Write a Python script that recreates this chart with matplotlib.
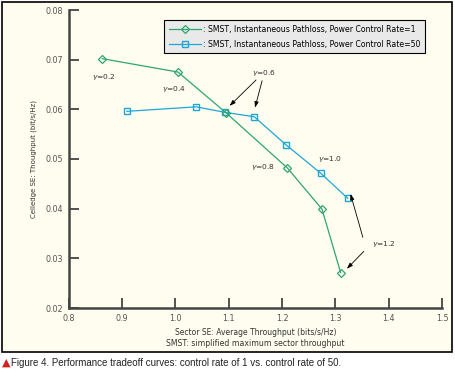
import matplotlib.pyplot as plt
from matplotlib.patches import Rectangle

# data
x_rate1 = [0.863, 1.005, 1.095, 1.210, 1.275, 1.310]
y_rate1 = [0.0702, 0.0675, 0.0593, 0.0482, 0.0399, 0.0271]
x_rate50 = [0.909, 1.039, 1.093, 1.148, 1.207, 1.273, 1.323]
y_rate50 = [0.0596, 0.0605, 0.0594, 0.0585, 0.0529, 0.0471, 0.0421]
label_rate1 = ': SMST, Instantaneous Pathloss, Power Control Rate=1'
label_rate50 = ': SMST, Instantaneous Pathloss, Power Control Rate=50'
x_ticks = [0.8, 0.9, 1.0, 1.1, 1.2, 1.3, 1.4, 1.5]
y_ticks = [0.02, 0.03, 0.04, 0.05, 0.06, 0.07, 0.08]

green = '#2fa66e'
blue = '#1ea6d6'
cream = '#fffdf0'
axis_col = '#444444'

fig = plt.figure(figsize=(4.55, 3.73), dpi=100)
fig.patch.set_facecolor('white')
# cream panel with black border, kept behind the axes
fig.patches.append(Rectangle((1.5 / 455, 1 - 351.5 / 373), 450.5 / 455, 350 / 373,
                             transform=fig.transFigure, facecolor=cream,
                             edgecolor='black', linewidth=1.2, zorder=-5))

ax = fig.add_axes([68.7 / 455, 1 - 308 / 373, (442 - 68.7) / 455, (308 - 10) / 373])
ax.set_facecolor('none')
ax.set_zorder(2)

ax.plot(x_rate1, y_rate1, color=green, lw=0.9, marker='D', ms=4.5,
        mfc='none', mec=green, mew=0.9, label=label_rate1, zorder=3)
ax.plot(x_rate50, y_rate50, color=blue, lw=0.9, marker='s', ms=4.2,
        mfc='none', mec=blue, mew=1.0, label=label_rate50, zorder=2)

ax.set_xlim(0.8, 1.5)
ax.set_ylim(0.02, 0.08)
ax.set_xticks(x_ticks)
ax.set_yticks(y_ticks)
ax.set_xticklabels([f'{v:.1f}' for v in x_ticks])
ax.set_yticklabels([f'{v:.2f}' for v in y_ticks])
for s in ['top', 'right']:
    ax.spines[s].set_visible(False)
for s in ['left', 'bottom']:
    ax.spines[s].set_color(axis_col)
    ax.spines[s].set_linewidth(1.8)
ax.tick_params(direction='in', length=7, width=1.3, color=axis_col,
               labelsize=5.8, labelcolor='#555555', pad=4)

ax.set_xlabel('Sector SE: Average Throughput (bits/s/Hz)', fontsize=5.5, color='#333333', labelpad=4)
ax.set_ylabel('Celledge SE: Thoughput (bit/s/Hz)', fontsize=5, color='#333333', labelpad=6)
fig.text(0.5 * (68.7 + 442) / 455, 1 - 343 / 373, 'SMST: simplified maximum sector throughput',
         fontsize=5.6, color='#333333', ha='center', va='center')

# gamma labels
tkw = dict(fontsize=5.4, color='#333333', ha='center', va='center')
ax.text(0.866, 0.0665, r'$\gamma$=0.2', **tkw)
ax.text(0.997, 0.0641, r'$\gamma$=0.4', **tkw)
ax.text(1.165, 0.0484, r'$\gamma$=0.8', **tkw)
ax.text(1.29, 0.0499, r'$\gamma$=1.0', **tkw)
ax.text(1.167, 0.0673, r'$\gamma$=0.6', **tkw)
ax.text(1.39, 0.0329, r'$\gamma$=1.2', **tkw)

akw = dict(arrowstyle='-|>,head_length=0.35,head_width=0.12', color='black', lw=0.6)
ax.annotate('', xy=(1.098, 0.0603), xytext=(1.155, 0.0663), arrowprops=akw)
ax.annotate('', xy=(1.148, 0.0598), xytext=(1.164, 0.0663), arrowprops=akw)
ax.annotate('', xy=(1.327, 0.0435), xytext=(1.353, 0.0337), arrowprops=akw)
ax.annotate('', xy=(1.318, 0.0275), xytext=(1.357, 0.0318), arrowprops=akw)

leg = ax.legend(loc='upper left', bbox_to_anchor=((164 - 68.7) / (442 - 68.7), 1 - 10 / 298),
                fontsize=5.6, frameon=True, fancybox=False, handlelength=4.2,
                handletextpad=0.2, borderpad=0.6, labelspacing=0.75, borderaxespad=0)
leg.get_frame().set_facecolor('#e9e9e9')
leg.get_frame().set_edgecolor('black')
leg.get_frame().set_linewidth(0.8)
leg.get_frame().set_alpha(1)

# caption below the panel
fig.text(2 / 455, 1 - 363 / 373, '\u25b2', fontsize=8, color='#d42020', ha='left', va='center')
fig.text(11 / 455, 1 - 363 / 373,
         'Figure 4. Performance tradeoff curves: control rate of 1 vs. control rate of 50.',
         fontsize=7.0, family='Liberation Sans', color='#222222', ha='left', va='center')

fig.savefig('out.png', dpi=100, facecolor='white')
